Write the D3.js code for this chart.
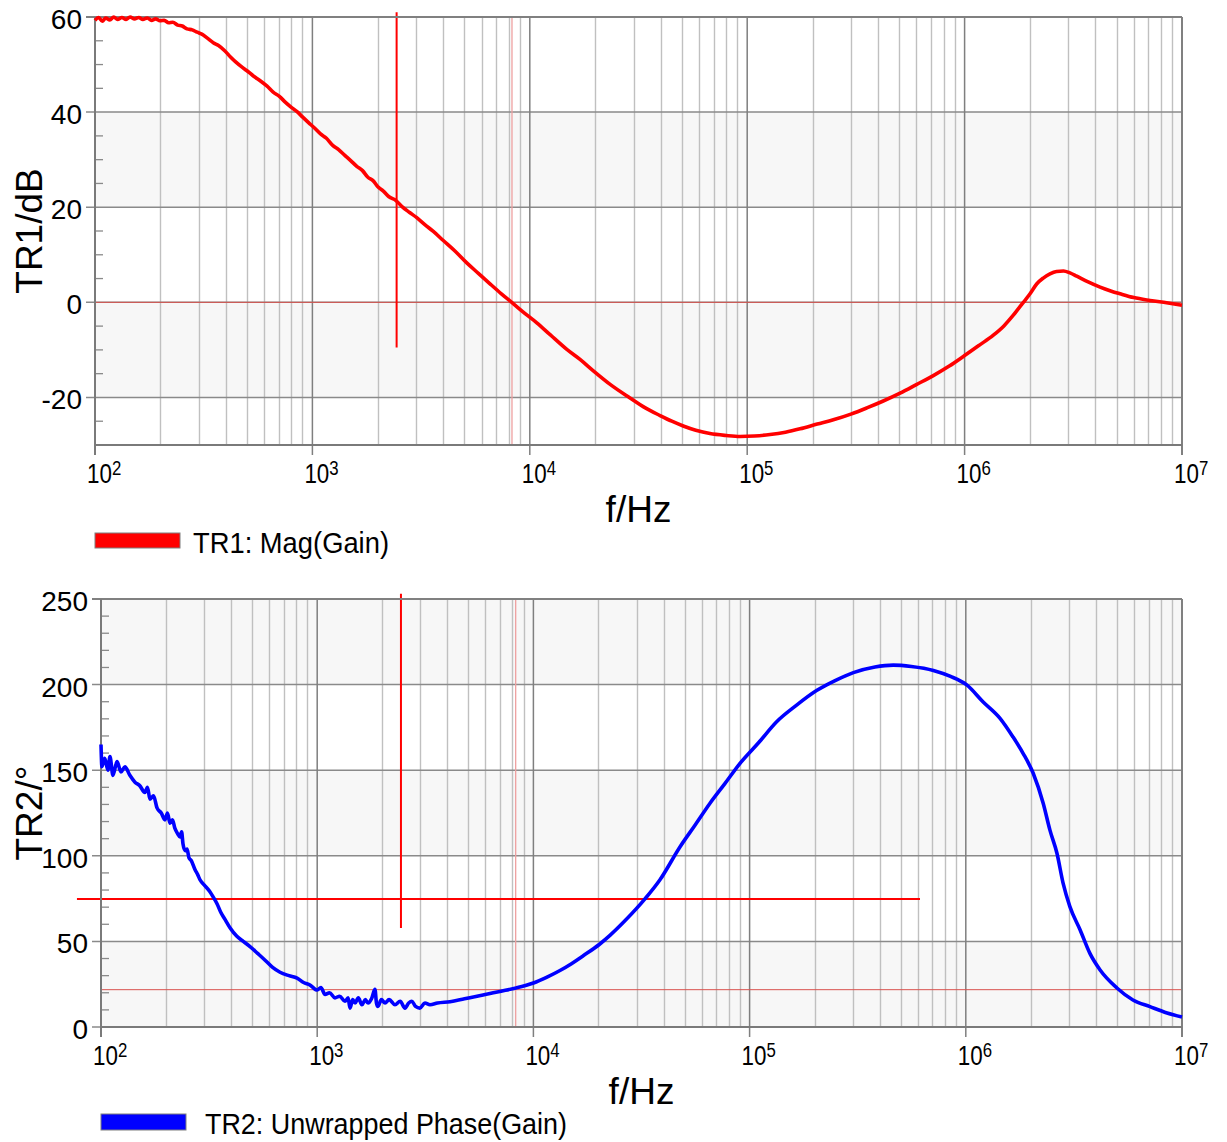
<!DOCTYPE html>
<html><head><meta charset="utf-8">
<script src="https://cdn.jsdelivr.net/npm/d3@7"></script>
<style>
body{margin:0;background:#fff}
text{font-family:Arial,"Liberation Sans",Helvetica,sans-serif;fill:#000}
</style>
</head><body>
<svg id="c" width="1227" height="1142"></svg>
<script>
// ---------- data ----------
const magFreq = [100,104,108,112,117,122,127,133,139,145,152,159,166,174,182,190,199,208,218,228,240,252,265,280,295,310,330,350,370,395,420,445,470,500,535,575,617,660,705,750,800,850,900,960,1020,1090,1160,1240,1320,1410,1500,1600,1700,1800,1900,2000,2120,2250,2424,2600,2800,3020,3300,3600,4000,4500,5130,5800,6560,7400,8260,9300,10770,12400,14800,17020,19600,23500,28900,34000,39700,45000,50800,58000,67400,80000,92700,108000,127400,150000,175000,210000,249000,300000,355000,420000,505000,600000,718000,850000,1000000,1170000,1356000,1520000,1675000,1863000,2000000,2150000,2300000,2470000,2650000,2850000,3050000,3280000,3700000,4200000,4700000,5190000,6000000,7130000,8500000,10000000];
const magDb = [59.3,59.9,59.1,59.8,59.4,60.0,59.5,59.9,59.5,60.0,59.6,59.9,59.5,59.8,59.3,59.6,59.2,59.3,58.8,58.9,58.3,58.1,57.5,57.3,56.8,56.4,55.5,54.6,54.0,52.9,51.6,50.5,49.6,48.7,47.6,46.6,45.5,44.2,43.3,42.1,41.0,40.1,39.0,37.8,36.7,35.4,34.5,33.0,32.1,30.9,29.8,28.6,27.7,26.3,25.6,24.3,23.4,22.2,21.4,20.0,18.9,17.8,16.3,14.9,13.0,10.9,8.3,6.1,3.9,1.8,0.0,-2.0,-4.3,-6.8,-9.9,-12.0,-14.4,-17.3,-20.1,-22.2,-23.8,-25.0,-26.0,-26.9,-27.6,-28.0,-28.2,-28.1,-27.8,-27.3,-26.6,-25.6,-24.7,-23.5,-22.2,-20.8,-19.1,-17.3,-15.4,-13.4,-11.2,-9.0,-6.9,-4.9,-2.7,0.0,1.8,3.9,5.1,6.0,6.5,6.6,6.2,5.5,4.3,3.2,2.4,1.8,1.0,0.4,-0.1,-0.6];

const phaseFreq = [100,101,104,107.7,110,113.6,118.6,123.7,129,136,143.6,151,159.6,164,168.5,175,181.6,190,197.7,203,208.5,214,219.8,226,232,236,239.4,245,250,255,262,272,280,287,300,319,330,344,358,374,395,425,455,489,530,574,620,673,740,807,865,927,1000,1040,1087,1140,1208,1270,1344,1390,1418,1460,1497,1550,1610,1670,1718,1790,1850,1880,1910,1980,2060,2150,2290,2420,2547,2650,2742,2850,2985,3150,3324,3600,4116,4800,5846,7000,8318,10000,11500,13270,15000,16950,20300,22600,26500,32800,38500,47700,56000,65600,77000,90300,110000,133400,165000,204000,250000,302000,380000,462000,560000,708000,850000,1010000,1200000,1440000,1650000,1840000,2050000,2280000,2450000,2640000,2820000,3030000,3380000,3750000,4180000,5000000,5930000,7110000,8530000,10000000];
const phaseDeg = [165,152,157,150,158,147,155,149,152,147,143,141,137,140,133,135,128,125,121,125,119,121,116,113,111,114,107,103,104,99,97,92,89,86,83,79,76,72,67,63,58,53,50,47,43,39,35,32,30,28.6,26,24.5,21.6,23,19,20,17,18,15,17,11,16,14,17,13,16,14,17,22,14,12,16,14,16,13,15,11,14,15,12,11,14,13,14,14.8,16.5,18.7,20.8,22.8,25.7,29,33,37,41.5,48.5,53.5,62,74.8,86,105.3,118,130.7,142.3,154,166,178.3,188,196.5,202.5,207,210.3,211.4,210.6,208.3,204.8,199.8,190,180.3,169.6,159.9,148.2,130.7,115,101.5,83.9,70.3,56.7,43,33.3,22.8,15.8,11.9,8.2,5.8];

const xTickExponents = [2,3,4,5,6,7];
const magTicks = [-20,0,20,40,60];
const phaseTicks = [0,50,100,150,200,250];
const magBands = [[-20,0],[20,40]];
const phaseBands = [[0,50],[100,150],[200,250]];
const legendLabels = ["TR1: Mag(Gain)","TR2: Unwrapped Phase(Gain)"];
const yTitles = ["TR1/dB","TR2/°"];
const xTitle = "f/Hz";
// markers
const cursorFreq = 2440;
const magCursorSpan = [61, -9.5];
const phaseCursorSpan = [253, 57.8];
const phaseCursorValue = 74.8;
const phaseCursorFreqSpan = [77.4, 614000];
const crossoverFreq = 8280;
const magRefLevel = 0;
const phaseMarginLevel = 21.8;

// ---------- drawing ----------
const svg = d3.select("#c");
const RIGHT = 1182;

function panel(cfg){
  const x = d3.scaleLog().domain([1e2,1e7]).range([cfg.left, RIGHT]);
  const y = d3.scaleLinear().domain(cfg.yDomain).range([cfg.bottom, cfg.top]);
  const g = svg.append("g");
  const x0 = x(1e2), x1 = x(1e7);

  g.selectAll(null).data(cfg.bands).join("rect")
    .attr("x", x0).attr("width", x1-x0)
    .attr("y", d=>y(d[1])).attr("height", d=>y(d[0])-y(d[1]))
    .attr("fill", "#f7f7f7");

  const allT = x.ticks();
  const minorT = allT.filter(t => Math.abs(Math.log10(t)-Math.round(Math.log10(t)))>1e-9);
  const majorT = xTickExponents.map(e=>Math.pow(10,e));

  g.selectAll(null).data(minorT).join("line")
    .attr("x1", d=>Math.round(x(d))+0.5).attr("x2", d=>Math.round(x(d))+0.5)
    .attr("y1", cfg.top).attr("y2", cfg.bottom)
    .attr("stroke", "#c0c0c0").attr("stroke-width", 1.4);

  // horizontal major grid
  g.selectAll(null).data(cfg.yTicks).join("line")
    .attr("x1", cfg.left-9).attr("x2", x1)
    .attr("y1", d=>y(d)).attr("y2", d=>y(d))
    .attr("stroke", "#8a8a8a").attr("stroke-width", 1.5);

  // decade lines
  g.selectAll(null).data(majorT).join("line")
    .attr("x1", d=>x(d)).attr("x2", d=>x(d))
    .attr("y1", cfg.top).attr("y2", cfg.bottom+10)
    .attr("stroke", "#7f7f7f").attr("stroke-width", 1.5);

  // minor y ticks
  const step = cfg.minorStep;
  const minorY = d3.range(cfg.yDomain[0], cfg.yDomain[1]+step/2, step).filter(v=>!cfg.yTicks.includes(v));
  g.selectAll(null).data(minorY).join("line")
    .attr("x1", cfg.left).attr("x2", cfg.left+8)
    .attr("y1", d=>y(d)).attr("y2", d=>y(d))
    .attr("stroke", "#8a8a8a").attr("stroke-width", 1.3);

  // reference lines
  g.append("line").attr("x1", x0).attr("x2", x1)
    .attr("y1", y(cfg.refLevel)).attr("y2", y(cfg.refLevel))
    .attr("stroke", "#d9534f").attr("stroke-width", 1);
  g.append("line").attr("x1", x(crossoverFreq)).attr("x2", x(crossoverFreq))
    .attr("y1", cfg.top).attr("y2", cfg.bottom)
    .attr("stroke", "#eea0a0").attr("stroke-width", 1.3);

  // cursor
  g.append("line").attr("x1", x(cursorFreq)).attr("x2", x(cursorFreq))
    .attr("y1", y(cfg.cursorSpan[0])).attr("y2", y(cfg.cursorSpan[1]))
    .attr("stroke", "#ff0000").attr("stroke-width", 2);
  if (cfg.cursorH !== undefined) {
    g.append("line").attr("x1", x(phaseCursorFreqSpan[0])).attr("x2", x(phaseCursorFreqSpan[1]))
      .attr("y1", y(cfg.cursorH)).attr("y2", y(cfg.cursorH))
      .attr("stroke", "#ff0000").attr("stroke-width", 2);
  }

  // frame & axes
  g.append("line").attr("x1", cfg.left-9).attr("x2", x1).attr("y1", cfg.top).attr("y2", cfg.top)
    .attr("stroke", "#808080").attr("stroke-width", 2);
  g.append("line").attr("x1", x1).attr("x2", x1).attr("y1", cfg.top).attr("y2", cfg.bottom+10)
    .attr("stroke", "#808080").attr("stroke-width", 2);
  g.append("line").attr("x1", x0).attr("x2", x0).attr("y1", cfg.top).attr("y2", cfg.bottom+10)
    .attr("stroke", "#7a7a7a").attr("stroke-width", 2);
  g.append("line").attr("x1", x0).attr("x2", x1).attr("y1", cfg.bottom).attr("y2", cfg.bottom)
    .attr("stroke", "#7a7a7a").attr("stroke-width", 2);

  // data
  const pts = cfg.freq.map((f,i)=>[f, cfg.vals[i]]);
  g.append("path").datum(pts)
    .attr("d", d3.line().curve(d3.curveMonotoneX).x(d=>x(d[0])).y(d=>y(d[1])))
    .attr("fill","none").attr("stroke", cfg.color).attr("stroke-width", 3.6)
    .attr("stroke-linejoin","round");

  // y tick labels
  g.selectAll(null).data(cfg.yTicks).join("text")
    .attr("x", cfg.left-13).attr("y", d=>y(d)+12)
    .attr("text-anchor","end").style("font-size","28px")
    .text(d=>d);

  // x tick labels
  majorT.forEach((v,i)=>{
    const t = g.append("text")
      .attr("transform", `translate(${x(v)-8},${cfg.bottom+38}) scale(0.8,1)`)
      .style("font-size","28px");
    t.append("tspan").text("10");
    t.append("tspan").attr("dy",-8).style("font-size","21px").text(xTickExponents[i]);
  });

  // titles
  g.append("text").attr("transform", `translate(42,${(cfg.top+cfg.bottom)/2}) rotate(-90)`)
    .attr("text-anchor","middle").style("font-size","37px").text(cfg.yTitle);
  g.append("text").attr("x", (x0+x1)/2).attr("y", cfg.bottom+77)
    .attr("text-anchor","middle").style("font-size","37px").text(xTitle);

  // legend
  g.append("rect").attr("x", cfg.legend.x).attr("y", cfg.legend.y)
    .attr("width", cfg.legend.w).attr("height", cfg.legend.h)
    .attr("fill", cfg.color).attr("stroke", "#7f7f7f").attr("stroke-width", 1);
  g.append("text").attr("x", cfg.legend.tx).attr("y", cfg.legend.ty)
    .attr("textLength", cfg.legend.tl).attr("lengthAdjust","spacingAndGlyphs")
    .style("font-size","29px").text(cfg.legendLabel);
}

panel({
  left:95, top:17, bottom:445, yDomain:[-30,60], yTicks:magTicks, minorStep:5,
  bands:magBands, freq:magFreq, vals:magDb, color:"#ff0000", refLevel:magRefLevel,
  cursorSpan:magCursorSpan, yTitle:yTitles[0], legendLabel:legendLabels[0],
  legend:{x:95,y:533,w:85,h:15,tx:193,ty:553,tl:196}
});
panel({
  left:101, top:599, bottom:1027, yDomain:[0,250], yTicks:phaseTicks, minorStep:10,
  bands:phaseBands, freq:phaseFreq, vals:phaseDeg, color:"#0000ff", refLevel:phaseMarginLevel,
  cursorSpan:phaseCursorSpan, cursorH:phaseCursorValue, yTitle:yTitles[1], legendLabel:legendLabels[1],
  legend:{x:101,y:1114,w:85,h:16,tx:205,ty:1134,tl:362}
});
</script>
</body></html>
